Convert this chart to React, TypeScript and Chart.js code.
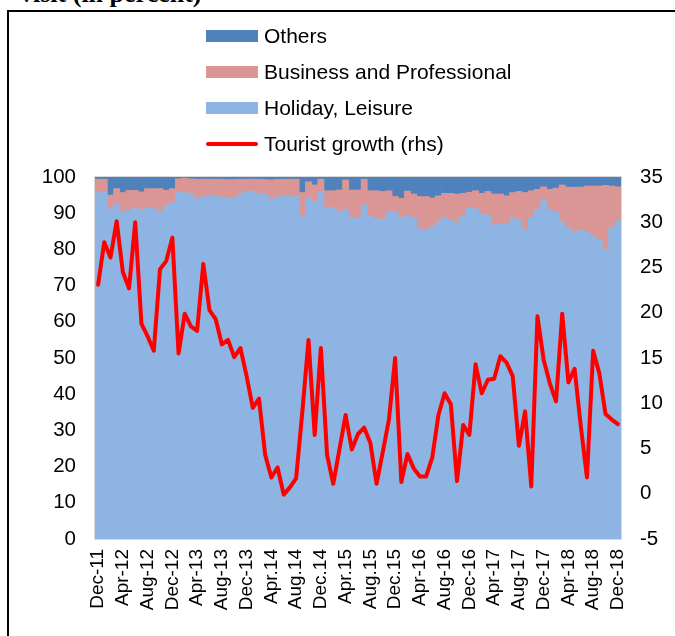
import React, { useEffect, useRef } from 'react';
import { Chart, registerables } from 'chart.js';

Chart.register(...registerables);

const tickLabels = [
  'Dec-11', 'Apr-12', 'Aug-12', 'Dec-12', 'Apr-13', 'Aug-13', 'Dec-13', 'Apr.14',
  'Aug.14', 'Dec.14', 'Apr.15', 'Aug.15', 'Dec.15', 'Apr-16', 'Aug-16', 'Dec-16',
  'Apr-17', 'Aug-17', 'Dec-17', 'Apr-18', 'Aug-18', 'Dec-18',
];

const holiday = [
  95.7, 95.7, 91.2, 92.8, 90.2, 90.8, 91.3, 91.0, 91.6, 91.2, 90.5, 92.2, 92.9,
  95.7, 95.7, 95.4, 94.0, 94.5, 94.8, 94.8, 94.2, 94.2, 94.2, 95.4, 96.1, 96.1,
  95.4, 95.4, 93.9, 94.5, 94.8, 94.6, 94.6, 89.3, 94.4, 93.2, 95.7, 91.6, 91.6,
  90.2, 91.1, 88.6, 88.6, 92.3, 89.1, 88.6, 88.3, 90.3, 90.5, 88.6, 89.3, 88.6,
  85.6, 85.6, 86.3, 87.7, 88.9, 88.2, 87.4, 89.3, 91.4, 91.2, 89.8, 89.5, 86.8,
  87.0, 87.0, 88.8, 88.3, 85.6, 88.6, 91.1, 93.5, 90.9, 90.5, 87.7, 85.9, 84.9,
  85.4, 84.7, 83.7, 82.6, 80.1, 86.1, 87.9,
];

const business = [
  3.7, 3.7, 3.8, 4.0, 5.5, 5.5, 5.0, 4.9, 5.2, 5.6, 6.3, 4.1, 3.9,
  3.8, 4.0, 4.1, 5.4, 4.9, 4.6, 4.6, 5.2, 5.1, 5.1, 4.0, 3.3, 3.3,
  4.0, 3.9, 5.3, 4.8, 4.6, 4.8, 4.8, 6.4, 4.3, 4.6, 3.7, 4.6, 4.6,
  6.2, 8.1, 7.8, 7.8, 7.1, 7.1, 7.6, 7.7, 5.9, 4.1, 5.5, 6.8, 6.7,
  9.0, 9.0, 7.9, 7.1, 6.6, 7.3, 7.9, 6.2, 4.4, 5.0, 5.7, 6.5, 8.5,
  8.3, 7.8, 6.9, 7.7, 10.1, 7.6, 5.5, 3.8, 5.7, 6.4, 10.1, 11.3, 12.3,
  11.8, 12.8, 13.8, 14.9, 17.6, 11.4, 9.4,
];

const others = [
  0.6, 0.6, 5.0, 3.2, 4.3, 3.7, 3.7, 4.1, 3.2, 3.2, 3.2, 3.7, 3.2,
  0.5, 0.3, 0.5, 0.6, 0.6, 0.6, 0.6, 0.6, 0.7, 0.7, 0.6, 0.6, 0.6,
  0.6, 0.7, 0.8, 0.7, 0.6, 0.6, 0.6, 4.3, 1.3, 2.2, 0.6, 3.8, 3.8,
  3.6, 0.8, 3.6, 3.6, 0.6, 3.8, 3.8, 4.0, 3.8, 5.4, 5.9, 3.9, 4.7,
  5.4, 5.4, 5.8, 5.2, 4.5, 4.5, 4.7, 4.5, 4.2, 3.8, 4.5, 4.0, 4.7,
  4.7, 5.2, 4.3, 4.0, 4.3, 3.8, 3.4, 2.7, 3.4, 3.1, 2.2, 2.8, 2.8,
  2.8, 2.5, 2.5, 2.5, 2.3, 2.5, 2.7,
];

const touristGrowth = [
  23.1, 27.8, 26.1, 30.1, 24.5, 22.7, 30.0, 18.8, 17.4, 15.8, 24.8, 25.7, 28.3,
  15.5, 19.9, 18.5, 18.0, 25.4, 20.3, 19.3, 16.5, 17.0, 15.1, 16.1, 13.0, 9.5,
  10.5, 4.3, 1.8, 2.9, -0.1, 0.7, 1.7, 9.0, 17.0, 6.5, 16.1, 4.3, 1.1,
  4.9, 8.7, 4.9, 6.6, 7.3, 5.6, 1.1, 4.6, 8.2, 15.0, 1.3, 4.4, 2.8,
  1.9, 1.9, 4.0, 8.7, 11.1, 9.9, 1.4, 7.6, 6.5, 14.3, 11.1, 12.6, 12.7,
  15.2, 14.5, 13.0, 5.3, 9.1, 0.8, 19.6, 14.8, 12.2, 10.2, 19.9, 12.3, 13.8,
  7.5, 1.8, 15.8, 13.3, 8.8, 8.2, 7.7,
];

const categories = holiday.map((_, i) => (i % 4 === 0 ? tickLabels[i / 4] : ''));

const FONT = '"Liberation Sans", Arial, sans-serif';

const legendItems = [
  { label: 'Others', color: '#4F81BD', type: 'box', y: 36 },
  { label: 'Business and Professional', color: '#D99694', type: 'box', y: 72 },
  { label: 'Holiday, Leisure', color: '#8EB4E3', type: 'box', y: 108 },
  { label: 'Tourist growth (rhs)', color: '#FF0000', type: 'line', y: 144 },
];

export default function App() {
  const ref = useRef<HTMLCanvasElement>(null);

  useEffect(() => {
    if (!ref.current) return;
    const plotBorder = {
      id: 'plotBorder',
      beforeDatasetsDraw(chart: any) {
        const { ctx, chartArea } = chart;
        ctx.save();
        ctx.strokeStyle = '#D9D9D9';
        ctx.lineWidth = 1;
        ctx.strokeRect(chartArea.left - 0.5, chartArea.top - 0.5, chartArea.right - chartArea.left + 1, chartArea.bottom - chartArea.top + 1);
        ctx.restore();
      },
    };
    const chart = new Chart(ref.current, {
      type: 'bar',
      data: {
        labels: categories,
        datasets: [
          {
            type: 'line',
            label: 'Tourist growth (rhs)',
            data: touristGrowth,
            yAxisID: 'y1',
            borderColor: '#FF0000',
            backgroundColor: '#FF0000',
            borderWidth: 4,
            pointRadius: 0,
            tension: 0,
            borderJoinStyle: 'round',
            borderCapStyle: 'round',
            order: 0,
          } as any,
          {
            label: 'Holiday, Leisure',
            data: holiday,
            backgroundColor: '#8EB4E3',
            borderWidth: 0,
            yAxisID: 'y',
            order: 1,
            barPercentage: 1,
            categoryPercentage: 1,
          },
          {
            label: 'Business and Professional',
            data: business,
            backgroundColor: '#D99694',
            borderWidth: 0,
            yAxisID: 'y',
            order: 1,
            barPercentage: 1,
            categoryPercentage: 1,
          },
          {
            label: 'Others',
            data: others,
            backgroundColor: '#4F81BD',
            borderWidth: 0,
            yAxisID: 'y',
            order: 1,
            barPercentage: 1,
            categoryPercentage: 1,
          },
        ],
      },
      options: {
        responsive: false,
        animation: false,
        devicePixelRatio: 1,
        layout: { padding: { top: 177, left: 0, right: 0, bottom: 0 } },
        plugins: {
          legend: { display: false },
          tooltip: { enabled: false },
          title: { display: false },
        },
        scales: {
          x: {
            stacked: true,
            offset: true,
            grid: { display: false, drawTicks: false },
            border: { display: false },
            ticks: {
              autoSkip: false,
              maxRotation: 90,
              minRotation: 90,
              padding: 10,
              color: '#000',
              font: { family: FONT, size: 19 },
            },
            afterFit(scale: any) {
              scale.height = 97;
            },
          },
          y: {
            stacked: true,
            position: 'left',
            min: 0,
            max: 100,
            grid: { display: false, drawTicks: false },
            border: { display: false },
            ticks: {
              stepSize: 10,
              padding: 19,
              color: '#000',
              font: { family: FONT, size: 20.5 },
            },
            afterFit(scale: any) {
              scale.width = 95;
            },
          },
          y1: {
            position: 'right',
            min: -5,
            max: 35,
            grid: { display: false, drawTicks: false },
            border: { display: false },
            ticks: {
              stepSize: 5,
              padding: 19,
              color: '#000',
              font: { family: FONT, size: 20.5 },
            },
            afterFit(scale: any) {
              scale.width = 54;
            },
          },
        },
      },
      plugins: [plotBorder],
    });
    return () => chart.destroy();
  }, []);

  return (
    <div style={{ position: 'absolute', left: 0, top: 0, width: 675, height: 636, overflow: 'hidden', background: '#fff' }}>
      <div
        style={{
          position: 'absolute',
          left: 20,
          top: -19,
          font: 'bold 26px "Liberation Serif", "Times New Roman", serif',
          lineHeight: '26px',
          whiteSpace: 'nowrap',
          color: '#000',
        }}
      >
        visit (in percent)
      </div>
      <div
        style={{
          position: 'absolute',
          left: 7,
          top: 10,
          width: 720,
          height: 700,
          borderLeft: '2px solid #000',
          borderTop: '2px solid #000',
        }}
      />
      <canvas ref={ref} width={675} height={636} style={{ position: 'absolute', left: 0, top: 0, width: 675, height: 636 }} />
      {legendItems.map((it) => (
        <div
          key={it.label}
          style={{
            position: 'absolute',
            left: 206,
            top: it.y - 14,
            height: 28,
            display: 'flex',
            alignItems: 'center',
            whiteSpace: 'nowrap',
          }}
        >
          {it.type === 'box' ? (
            <div style={{ width: 52, height: 12, background: it.color }} />
          ) : (
            <div style={{ width: 52, height: 4, background: it.color, borderRadius: 2 }} />
          )}
          <span style={{ marginLeft: 6, font: `21px ${FONT}`, color: '#000' }}>{it.label}</span>
        </div>
      ))}
    </div>
  );
}
